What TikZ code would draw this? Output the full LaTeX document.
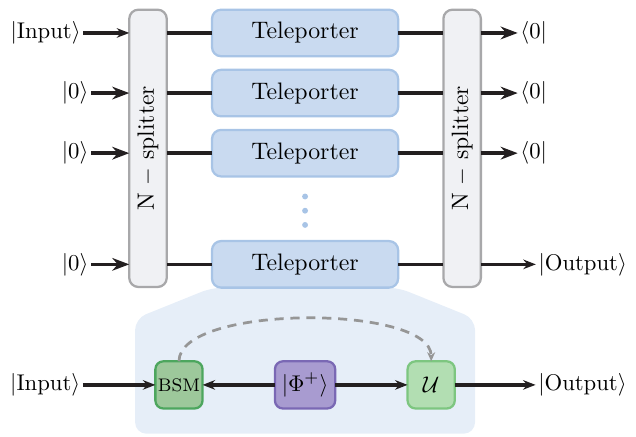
\documentclass[tikz,border=0pt]{standalone}
\usepackage{tikz}
\usetikzlibrary{arrows.meta, positioning, calc, backgrounds}
\usepackage{amsmath}
\usepackage{xcolor}
\definecolor{splitcolor}{RGB}{240,241,244}
\definecolor{splitborder}{RGB}{168,168,170}
\definecolor{telecolor}{RGB}{201,218,240}
\definecolor{teleborder}{RGB}{168,196,230}
\definecolor{zoomcolor}{RGB}{230,238,248}
\definecolor{bsmcolor}{RGB}{157,200,155}
\definecolor{bsmborder}{RGB}{77,166,94}
\definecolor{bellcolor}{RGB}{168,155,208}
\definecolor{bellborder}{RGB}{122,104,180}
\definecolor{unitcolor}{RGB}{178,222,178}
\definecolor{unitborder}{RGB}{125,198,128}
\definecolor{wirecolor}{RGB}{35,31,32}
\definecolor{classcolor}{RGB}{150,150,150}
\tikzset{
    splitter/.style={
        rectangle, draw=splitborder, fill=splitcolor, line width=1pt, outer sep=0pt,
        rounded corners=4pt, minimum width=0.58cm, minimum height=4.29cm, inner sep=0pt
    },
    splitlabel/.style={rotate=90, font=\fontsize{10.4}{12}\selectfont},
    teleporter/.style={
        rectangle, draw=teleborder, fill=telecolor, line width=1pt, outer sep=0pt,
        rounded corners=4pt, minimum width=2.88cm, minimum height=0.72cm,
        font=\fontsize{10.5}{12}\selectfont
    },
    ket/.style={inner sep=1pt, font=\fontsize{9.6}{11}\selectfont},
    gate/.style={
        rectangle, line width=1pt, rounded corners=3.5pt, outer sep=0pt,
        minimum width=0.73cm, minimum height=0.73cm, inner sep=1pt
    },
    bsmbox/.style={gate, draw=bsmborder, fill=bsmcolor, font=\footnotesize},
    bellbox/.style={gate, draw=bellborder, fill=bellcolor, inner xsep=3pt},
    unitbox/.style={gate, draw=unitborder, fill=unitcolor},
    vdot/.style={circle, fill=teleborder, inner sep=0pt, minimum size=2.6pt},
    wire/.style={line width=1.6pt, wirecolor},
    arrow/.style={wire, -{Stealth[length=5.5pt, width=4.2pt]}},
    bigarrow/.style={wire, -{Stealth[length=7.5pt, width=5.6pt]}},
    classarrow/.style={-{Stealth[length=4pt, width=3.5pt]}, line width=1.2pt, classcolor, dash pattern=on 4pt off 3pt}
}

\begin{document}
\begin{tikzpicture}
\useasboundingbox (-4.72,0.51) rectangle (5.12,-6.25);

% Teleporters
\node[teleporter] (tel1) {Teleporter};
\node[teleporter, below=0.21cm of tel1] (tel2) {Teleporter};
\node[teleporter, below=0.21cm of tel2] (tel3) {Teleporter};
\node[teleporter, below=1.0cm of tel3] (tel4) {Teleporter};

% Vertical dots
\foreach \k in {1,2,3}
    \node[vdot] (dot\k) at ($(tel3.south)+(0,-0.09-0.22*\k)$) {};

% Splitters
\node[splitter, left=0.7cm of tel1.north west, anchor=north east] (lsplit) {};
\node[splitter, right=0.7cm of tel1.north east, anchor=north west] (rsplit) {};
\node[splitlabel] (llabel) at (lsplit) {N $-$ splitter};
\node[splitlabel] (rlabel) at (rsplit) {N $-$ splitter};

% Input ports
\node[ket, left=0.71cm of lsplit.west |- tel1] (in1) {$|\mathrm{Input}\rangle$};
\node[ket, left=0.59cm of lsplit.west |- tel2] (in2) {$|0\rangle$};
\node[ket, left=0.59cm of lsplit.west |- tel3] (in3) {$|0\rangle$};
\node[ket, left=0.59cm of lsplit.west |- tel4] (in4) {$|0\rangle$};

% Output ports
\node[ket, right=0.57cm of rsplit.east |- tel1] (out1) {$\langle 0|$};
\node[ket, right=0.57cm of rsplit.east |- tel2] (out2) {$\langle 0|$};
\node[ket, right=0.57cm of rsplit.east |- tel3] (out3) {$\langle 0|$};
\node[ket, right=0.85cm of rsplit.east |- tel4] (out4) {$|\mathrm{Output}\rangle$};

% Teleporter circuit
\node[bellbox, below=1.14cm of tel4] (bell) {$|\Phi^+\rangle$};
\node[bsmbox, left=1.12cm of bell] (bsm) {BSM};
\node[unitbox, right=1.12cm of bell] (unit) {$\mathcal{U}$};
\node[ket, left=1.12cm of bsm] (inb) {$|\mathrm{Input}\rangle$};
\node[ket, right=1.25cm of unit] (outb) {$|\mathrm{Output}\rangle$};

% Zoom background
\begin{scope}[on background layer]
\fill[zoomcolor, rounded corners=5pt] (tel4.south west) -- ++(-1.19,-0.48) -- ++(0,-1.78)
    -- ++(5.26,0) -- ++(0,1.78) -- (tel4.south east) -- cycle;
\end{scope}

% Wires
\foreach \i in {1,...,4} {
    \draw[wire] (tel\i) -- (tel\i -| lsplit.east);
    \draw[wire] (tel\i) -- (tel\i -| rsplit.west);
}
\draw[arrow] (in1) -- (in1 -| lsplit.west);
\foreach \i in {2,3,4}
    \draw[bigarrow] (in\i) -- (in\i -| lsplit.west);
\foreach \i in {1,2,3}
    \draw[bigarrow] (out\i -| rsplit.east) -- (out\i);
\draw[arrow] (out4 -| rsplit.east) -- (out4);

% Circuit arrows
\draw[arrow] (inb) -- (bsm);
\draw[arrow] (bell) -- (bsm);
\draw[arrow] (bell) -- (unit);
\draw[arrow] (unit) -- (outb);
\draw[classarrow] (bsm.north) to[out=90, in=90, looseness=0.58] (unit.north);

\end{tikzpicture}
\end{document}
